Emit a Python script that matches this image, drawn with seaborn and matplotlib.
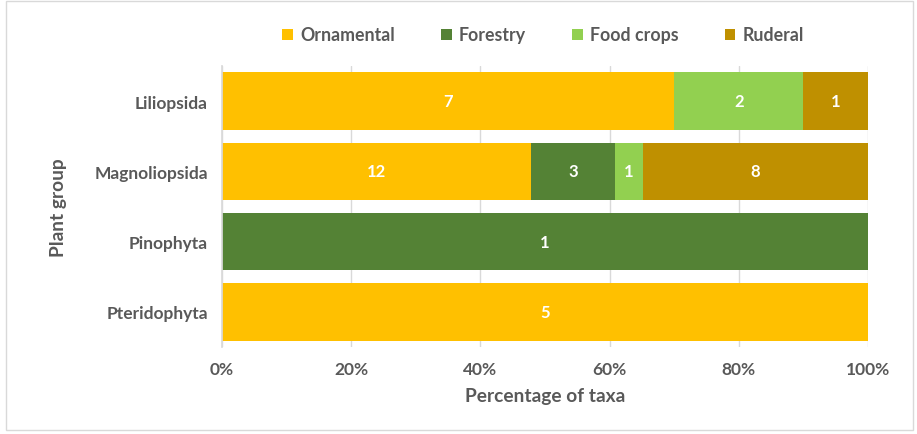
import numpy as np
import pandas as pd
import matplotlib
matplotlib.use("Agg")
import matplotlib.pyplot as plt
import seaborn as sns
from matplotlib.patches import Rectangle, Patch
from matplotlib.ticker import PercentFormatter

groups = ["Liliopsida", "Magnoliopsida", "Pinophyta", "Pteridophyta"]
series = ["Ornamental", "Forestry", "Food crops", "Ruderal"]
# share of taxa (%) per group
ornamental_pct = [70.0, 47.8, 0.0, 100.0]
forestry_pct = [0.0, 13.0, 100.0, 0.0]
food_pct = [20.0, 4.3, 0.0, 0.0]
ruderal_pct = [10.0, 34.9, 0.0, 0.0]
# counts shown as labels
ornamental_n = [7, 12, 0, 5]
forestry_n = [0, 3, 1, 0]
food_n = [2, 1, 0, 0]
ruderal_n = [1, 8, 0, 0]
xticks = [0, 20, 40, 60, 80, 100]

colors = ["#FFC000", "#548235", "#92D050", "#BF9000"]
text_color = "#595959"

sns.set_theme(style="white")
plt.rcParams["font.family"] = ["Lato", "DejaVu Sans"]
plt.rcParams["font.weight"] = "bold"

pcts = np.array([ornamental_pct, forestry_pct, food_pct, ruderal_pct])
counts = np.array([ornamental_n, forestry_n, food_n, ruderal_n])
cum = np.cumsum(pcts, axis=0)

fig = plt.figure(figsize=(9.17, 4.35), dpi=100)
ax = fig.add_axes([222 / 917, 1 - 348 / 435, (868 - 222) / 917, (348 - 67) / 435])

# stacked bars: draw cumulative totals from last series to first
for i in range(len(series) - 1, -1, -1):
    df = pd.DataFrame({"group": groups, "value": cum[i]})
    sns.barplot(data=df, y="group", x="value", order=groups, color=colors[i],
                saturation=1, width=0.82, ax=ax, zorder=2, linewidth=0)

# labels
for i in range(len(series)):
    for j, g in enumerate(groups):
        if counts[i, j] > 0:
            left = cum[i, j] - pcts[i, j]
            ax.text(left + pcts[i, j] / 2, j, str(counts[i, j]), ha="center", va="center",
                    color="white", fontsize=12, fontweight="bold", zorder=3)

ax.set_xlim(0, 100)
ax.set_ylim(3.5, -0.5)
ax.set_xticks(xticks)
ax.xaxis.set_major_formatter(PercentFormatter(decimals=0))
ax.grid(axis="x", color="#D9D9D9", linewidth=1, zorder=0)
ax.set_axisbelow(True)
for s in ["top", "right", "bottom"]:
    ax.spines[s].set_visible(False)
ax.spines["left"].set_color("#D9D9D9")
ax.tick_params(axis="both", length=0, colors=text_color, labelsize=12.5, pad=10)
for lbl in ax.get_xticklabels() + ax.get_yticklabels():
    lbl.set_fontweight("bold")
ax.set_xlabel("Percentage of taxa", fontsize=13.8, color=text_color, fontweight="bold", labelpad=7)
ax.set_ylabel("Plant group", fontsize=13.8, color=text_color, fontweight="bold", labelpad=20)

handles = [Patch(facecolor=c, edgecolor="none") for c in colors]
fig.legend(handles, series, loc="center", bbox_to_anchor=(543 / 917, 1 - 36 / 435), ncol=4,
           frameon=False, handlelength=0.6, handleheight=0.6,
           columnspacing=2.6, handletextpad=0.4, labelcolor=text_color,
           prop={"weight": "bold", "size": 12.8})

fig.patches.append(Rectangle((0.006, 0.01), 0.99, 0.985, transform=fig.transFigure,
                             fill=False, edgecolor="#D9D9D9", linewidth=1))

fig.savefig("out.png", dpi=100)
